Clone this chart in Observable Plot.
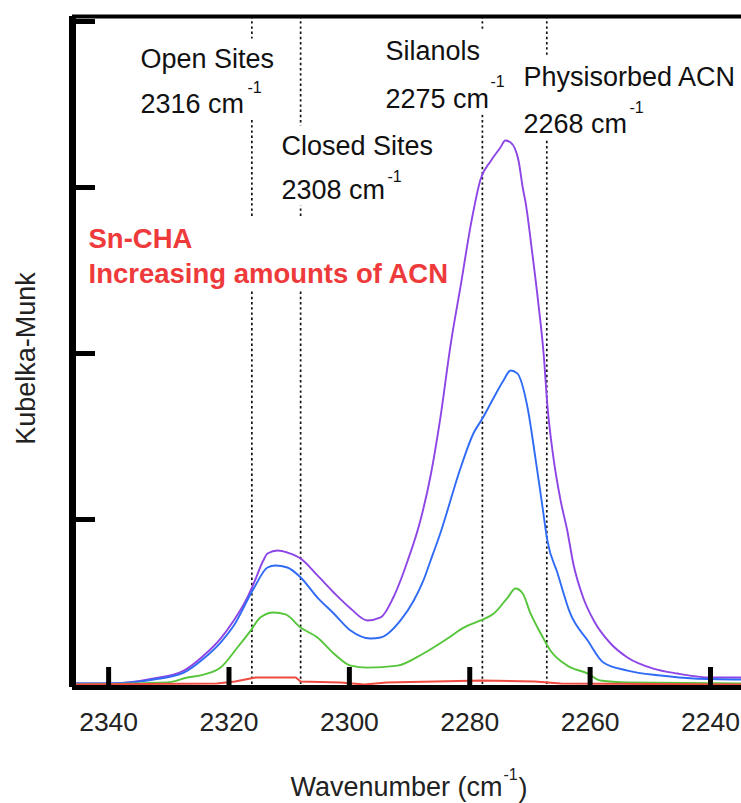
<!DOCTYPE html>
<html>
<head>
<meta charset="utf-8">
<script src="https://cdn.jsdelivr.net/npm/d3@7"></script>
<script src="https://cdn.jsdelivr.net/npm/@observablehq/plot@0.6"></script>
<style>
  html, body { margin: 0; padding: 0; background: #fff; }
  #chart svg { display: block; }
</style>
</head>
<body>
<div id="chart"></div>
<script>
// ---------- data ----------
const xTicks = [2340, 2320, 2300, 2280, 2260, 2240];
const yTicks = [1, 2, 3, 4];

const seriesNames = ["ACN dose 4", "ACN dose 3", "ACN dose 2", "ACN dose 1"];

const dose4Wn = [2346.0, 2340.0, 2332.5, 2327.5, 2324.2, 2321.4, 2319.2, 2317.2, 2315.9, 2314.3, 2313.6, 2311.9, 2310.3, 2308.1, 2305.3, 2302.6, 2299.8, 2297.0, 2294.8, 2292.7, 2290.3, 2288.2, 2286.5, 2284.9, 2283.2, 2281.5, 2279.7, 2278.2, 2276.5, 2274.9, 2274.1, 2273.2, 2271.9, 2271.2, 2270.7, 2269.6, 2268.6, 2267.7, 2267.1, 2266.1, 2264.9, 2263.8, 2262.8, 2261.1, 2259.4, 2256.6, 2253.8, 2249.5, 2245.5, 2240.0, 2234.9];
const dose4KM = [0.012, 0.012, 0.042, 0.090, 0.181, 0.283, 0.392, 0.512, 0.614, 0.753, 0.795, 0.813, 0.801, 0.765, 0.663, 0.560, 0.464, 0.392, 0.410, 0.530, 0.753, 0.994, 1.265, 1.608, 2.048, 2.410, 2.800, 3.050, 3.160, 3.241, 3.283, 3.271, 3.163, 3.000, 2.904, 2.602, 2.301, 1.988, 1.687, 1.373, 1.114, 0.934, 0.735, 0.524, 0.392, 0.253, 0.169, 0.102, 0.072, 0.048, 0.048];

const dose3Wn = [2346.0, 2340.0, 2332.5, 2327.5, 2324.2, 2321.4, 2319.2, 2315.9, 2313.6, 2312.3, 2310.3, 2308.1, 2305.3, 2302.6, 2299.8, 2296.5, 2294.8, 2291.5, 2289.3, 2287.7, 2286.5, 2284.9, 2281.5, 2279.4, 2277.9, 2276.0, 2274.4, 2273.2, 2272.1, 2270.4, 2269.1, 2267.9, 2267.1, 2265.4, 2263.3, 2260.4, 2257.8, 2253.8, 2248.3, 2242.8, 2234.9];
const dose3KM = [0.012, 0.012, 0.036, 0.078, 0.163, 0.259, 0.361, 0.584, 0.711, 0.723, 0.711, 0.651, 0.530, 0.434, 0.331, 0.283, 0.289, 0.392, 0.512, 0.633, 0.753, 0.916, 1.313, 1.518, 1.608, 1.735, 1.837, 1.898, 1.880, 1.675, 1.373, 1.072, 0.873, 0.675, 0.434, 0.271, 0.139, 0.090, 0.060, 0.042, 0.036];

const dose2Wn = [2346.0, 2330.2, 2326.9, 2324.2, 2321.4, 2318.6, 2316.4, 2314.8, 2312.6, 2310.6, 2308.1, 2305.3, 2302.6, 2299.8, 2297.0, 2292.0, 2287.7, 2283.7, 2281.0, 2278.2, 2276.0, 2273.7, 2272.4, 2271.2, 2269.9, 2268.2, 2266.6, 2263.8, 2260.4, 2258.3, 2253.8, 2234.9];
const dose2KM = [0.006, 0.018, 0.048, 0.066, 0.108, 0.229, 0.331, 0.410, 0.440, 0.428, 0.349, 0.289, 0.193, 0.120, 0.108, 0.120, 0.193, 0.283, 0.349, 0.392, 0.434, 0.530, 0.584, 0.554, 0.434, 0.313, 0.211, 0.120, 0.072, 0.030, 0.018, 0.012];

const dose1Wn = [2346.0, 2322.0, 2319.0, 2315.6, 2308.9, 2308.1, 2301.5, 2297.5, 2293.8, 2277.9, 2269.2, 2264.9, 2234.9];
const dose1KM = [0.006, 0.012, 0.024, 0.048, 0.048, 0.024, 0.018, 0.006, 0.018, 0.030, 0.024, 0.012, 0.006];

const siteNames = ["Open Sites", "Closed Sites", "Silanols", "Physisorbed ACN"];
const siteWavenumbers = [2316, 2308, 2275, 2268];
const siteLinePositions = [2316.2, 2308.1, 2277.9, 2267.2];
const sampleLines = ["Sn-CHA", "Increasing amounts of ACN"];

// ---------- layout / style ----------
const W = 741, H = 803, mL = 72, mR = 0, mT = 16, mB = 116;
const xDomain = [2346, 2234.85];
const yDomain = [-0.012, 4.03];
const unitsPerPxY = (yDomain[1] - yDomain[0]) / (H - mT - mB);
const unitsPerPxX = (xDomain[0] - xDomain[1]) / (W - mL - mR);
const colors = ["#8d45e6", "#2f6bf5", "#55c53a", "#ee4a40"];
const FONT = "'Liberation Sans', Arial, sans-serif";
const cx = (mL + W) / 2;

const siteLabelLayout = [
  {left: 140, titleBase: 67, valueBase: 112, supLeft: 247, supBase: 92},
  {left: 281, titleBase: 154, valueBase: 198, supLeft: 387, supBase: 181},
  {left: 385, titleBase: 59, valueBase: 107, supLeft: 490, supBase: 86},
  {left: 523, titleBase: 85, valueBase: 132, supLeft: 629, supBase: 112}
];

const series = [
  [dose4Wn, dose4KM], [dose3Wn, dose3KM], [dose2Wn, dose2KM], [dose1Wn, dose1KM]
].flatMap(([wn, km], i) => wn.map((w, j) => ({series: seriesNames[i], wn: w, km: km[j]})));

const marks = [];

// dashed site lines
marks.push(Plot.ruleX(siteLinePositions, {x: d => d, stroke: "#111", strokeWidth: 1.7, strokeDasharray: "2.4,2.8"}));

// spectra
seriesNames.forEach((name, i) => {
  marks.push(Plot.line(series.filter(d => d.series === name), {
    x: "wn", y: "km", stroke: colors[i], strokeWidth: 1.9,
    curve: i === 3 ? "linear" : "monotone-x"
  }));
});

// frame & ticks
marks.push(Plot.ruleY([yDomain[0]], {stroke: "#000", strokeWidth: 5}));
marks.push(Plot.ruleY([yDomain[1]], {stroke: "#000", strokeWidth: 4}));
marks.push(Plot.ruleX([xDomain[0]], {stroke: "#000", strokeWidth: 7}));
marks.push(Plot.ruleX(xTicks, {x: d => d, y1: yDomain[0], y2: yDomain[0] + 20 * unitsPerPxY, stroke: "#000", strokeWidth: 5}));
marks.push(Plot.ruleY(yTicks, {y: d => d, x1: xDomain[0], x2: xDomain[0] - 23 * unitsPerPxX, stroke: "#000", strokeWidth: 5}));

// tick labels
marks.push(Plot.text(xTicks, {x: d => d, text: d => String(d), frameAnchor: "bottom", lineAnchor: "top", dy: 25, fontSize: 26.5, fill: "#222"}));

// axis titles
marks.push(Plot.text(["Wavenumber (cm"], {text: d => d, frameAnchor: "bottom", textAnchor: "end", lineAnchor: "bottom", dx: 502 - cx, dy: 795 - (H - mB), fontSize: 27, fill: "#222"}));
marks.push(Plot.text(["-1"], {text: d => d, frameAnchor: "bottom", textAnchor: "start", lineAnchor: "bottom", dx: 503 - cx, dy: 779 - (H - mB), fontSize: 16, fill: "#222"}));
marks.push(Plot.text([")"], {text: d => d, frameAnchor: "bottom", textAnchor: "start", lineAnchor: "bottom", dx: 518 - cx, dy: 796 - (H - mB), fontSize: 27, fill: "#222"}));
marks.push(Plot.text(["Kubelka-Munk"], {text: d => d, frameAnchor: "left", textAnchor: "middle", lineAnchor: "middle", rotate: -90, dx: 26 - mL, dy: 358 - (mT + (H - mB)) / 2, fontSize: 27, fill: "#222"}));

// site annotations
siteNames.forEach((name, i) => {
  const L = siteLabelLayout[i];
  const common = {text: d => d, frameAnchor: "top-left", textAnchor: "start", lineAnchor: "bottom", fill: "#111"};
  marks.push(Plot.text([name], {...common, dx: L.left - mL, dy: L.titleBase - mT, fontSize: 27}));
  marks.push(Plot.text([`${siteWavenumbers[i]} cm`], {...common, dx: L.left - mL, dy: L.valueBase - mT, fontSize: 27}));
  marks.push(Plot.text(["-1"], {...common, dx: L.supLeft - mL, dy: L.supBase - mT, fontSize: 16}));
});

// sample annotation
sampleLines.forEach((t, i) => {
  marks.push(Plot.text([t], {text: d => d, frameAnchor: "top-left", textAnchor: "start", lineAnchor: "bottom", dx: 88 - mL, dy: [247, 282][i] - mT, fontSize: 27.5, fontWeight: "bold", fill: "#ee3a3a"}));
});

const svg = Plot.plot({
  width: W, height: H,
  marginLeft: mL, marginRight: mR, marginTop: mT, marginBottom: mB,
  x: {domain: xDomain, axis: null},
  y: {domain: yDomain, axis: null},
  style: {fontFamily: FONT, background: "#fff", overflow: "visible"},
  marks
});
document.getElementById("chart").append(svg);

// white boxes behind annotation blocks (the original's text boxes interrupt the dashed lines)
const svgRect = svg.getBoundingClientRect();
const texts = Array.from(svg.querySelectorAll("text"));
const rel = el => {
  const r = el.getBoundingClientRect();
  return {x0: r.left - svgRect.left, y0: r.top - svgRect.top, x1: r.right - svgRect.left, y1: r.bottom - svgRect.top};
};
const grow = (b, r) => {
  b.x0 = Math.min(b.x0, r.x0); b.y0 = Math.min(b.y0, r.y0);
  b.x1 = Math.max(b.x1, r.x1); b.y1 = Math.max(b.y1, r.y1);
};
const groupDefs = siteNames.map((n, i) => [n, `${siteWavenumbers[i]} cm`]).concat([sampleLines]);
const boxes = groupDefs.map(strs => {
  const b = {x0: Infinity, y0: Infinity, x1: -Infinity, y1: -Infinity};
  texts.filter(t => strs.includes(t.textContent)).forEach(t => grow(b, rel(t)));
  return b;
}).filter(b => isFinite(b.x0));
texts.filter(t => t.textContent === "-1").forEach(t => {
  const r = rel(t);
  boxes.forEach(b => {
    if (r.x0 >= b.x0 && r.x0 <= b.x1 + 15 && r.y1 >= b.y0 - 5 && r.y0 <= b.y1) grow(b, r);
  });
});
const anchor = svg.querySelector("g[stroke-dasharray]");
if (anchor) {
  for (const b of boxes) {
    const rect = document.createElementNS("http://www.w3.org/2000/svg", "rect");
    rect.setAttribute("x", b.x0 - 3);
    rect.setAttribute("y", b.y0 - 5);
    rect.setAttribute("width", b.x1 - b.x0 + 6);
    rect.setAttribute("height", b.y1 - b.y0 + 6);
    rect.setAttribute("fill", "#fff");
    anchor.after(rect);
  }
}
</script>
</body>
</html>
